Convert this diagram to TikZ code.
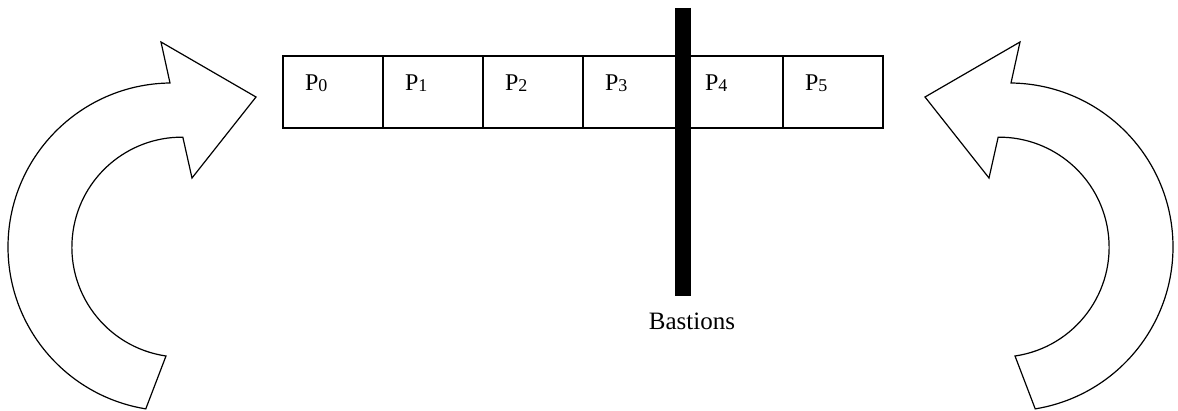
\documentclass[tikz,border=0pt]{standalone}
\usepackage{fontspec}
\setmainfont{Liberation Serif}
\usetikzlibrary{positioning}
\begin{document}
\begin{tikzpicture}[x=1pt, y=1pt, line width=1.2pt,
  every node/.style={font=\fontsize{24}{28}\selectfont},
  cell/.style={draw, minimum width=100pt, minimum height=72pt, inner sep=0pt},
  bentarrow/.style={draw, line join=miter, fill=white}]
  \useasboundingbox (0,0) rectangle (1178,410);
  % left bent arrow
  \draw[bentarrow] (170,327) arc[start angle=90.7, end angle=260.8, radius=164]
    -- (166,54) arc[start angle=261.7, end angle=89.5, radius=110]
    -- (192,232) -- (256,313) -- (161,368) -- cycle;
  % right one is its mirror image
  \begin{scope}[shift={(1181,0)}, xscale=-1]
    \draw[bentarrow] (170,327) arc[start angle=90.7, end angle=260.8, radius=164]
      -- (166,54) arc[start angle=261.7, end angle=89.5, radius=110]
      -- (192,232) -- (256,313) -- (161,368) -- cycle;
  \end{scope}
  % the six cells
  \foreach \i in {0,...,5} {
    \node[cell] (c\i) at (333+100*\i,318) {};
    \node[anchor=base west, inner sep=0pt] (p\i) at ([shift={(22,-35)}]c\i.north west)
      {P\raisebox{-1.5pt}{\fontsize{18}{18}\selectfont\i}};
  }
  % bastion bar
  \coordinate (bartop) at (683,402);
  \coordinate (barbot) at (683,114);
  \draw[line width=16pt] (bartop) -- (barbot);
  \node[below=16pt of barbot, xshift=9pt, inner sep=0pt,
    font=\fontsize{25}{29}\selectfont] (bast) {Bastions};
\end{tikzpicture}
\end{document}
